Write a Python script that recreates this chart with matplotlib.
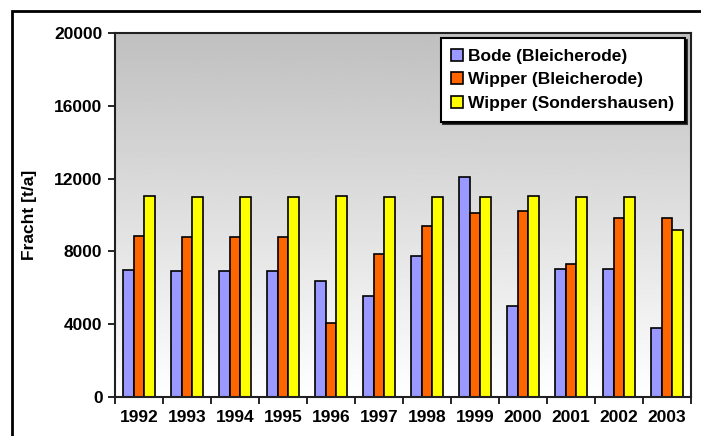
import numpy as np
import matplotlib.pyplot as plt
from matplotlib.patches import Rectangle

years = ['1992', '1993', '1994', '1995', '1996', '1997',
         '1998', '1999', '2000', '2001', '2002', '2003']
bode_bleicherode = [6980, 6940, 6940, 6940, 6390, 5550, 7750, 12100, 5000, 7010, 7010, 3770]
wipper_bleicherode = [8860, 8810, 8810, 8810, 4050, 7840, 9400, 10090, 10220, 7310, 9830, 9830]
wipper_sondershausen = [11060, 11010, 11010, 11010, 11060, 11010, 11010, 11010, 11060, 11010, 11010, 9175]

series = [
    ('Bode (Bleicherode)', bode_bleicherode, '#9999ff'),
    ('Wipper (Bleicherode)', wipper_bleicherode, '#ff6600'),
    ('Wipper (Sondershausen)', wipper_sondershausen, '#ffff00'),
]

plt.rcParams['font.family'] = ['Liberation Sans', 'DejaVu Sans']
plt.rcParams['font.weight'] = 'bold'

fig = plt.figure(figsize=(7.01, 4.36), dpi=100)
ax = fig.add_axes([115 / 701, 1 - 397 / 436, 576 / 701, 364 / 436])

# grey (top) to white (bottom) background of the plot area
grad = np.linspace(0.75, 1.0, 256).reshape(-1, 1)
ax.imshow(grad, cmap='gray', vmin=0, vmax=1, aspect='auto', origin='upper',
          extent=[-0.5, len(years) - 0.5, 0, 20000], zorder=0)

x = np.arange(len(years))
w = 0.22
for i, (name, vals, col) in enumerate(series):
    ax.bar(x + (i - 1) * w, vals, width=w, color=col, edgecolor='black',
           linewidth=1.2, label=name, zorder=2)

ax.set_xlim(-0.5, len(years) - 0.5)
ax.set_ylim(0, 20000)
ax.set_yticks(range(0, 20001, 4000))
ax.set_xticks(x)
ax.set_xticklabels(years)
ax.set_xticks(np.arange(-0.5, len(years)), minor=True)
ax.tick_params(axis='x', which='major', length=0, pad=9, labelsize=12.5)
ax.tick_params(axis='x', which='minor', length=5, width=1.2, direction='out')
ax.tick_params(axis='y', length=5, width=1.2, direction='out', pad=4, labelsize=12.5)
for s in ax.spines.values():
    s.set_linewidth(1.5)
    s.set_color('#202020')

ax.set_ylabel('Fracht [t/a]', fontsize=12.5, fontweight='bold', labelpad=12)

leg = ax.legend(loc='upper right', bbox_to_anchor=(0.9896, 0.986), fontsize=12.5,
                frameon=True, fancybox=False, edgecolor='black',
                shadow={'ox': 1.5, 'oy': -1.5, 'color': 'black', 'alpha': 0.75},
                handlelength=0.7, handleheight=0.7, handletextpad=0.3,
                borderpad=0.6, labelspacing=0.5, borderaxespad=0)
leg.get_frame().set_linewidth(1.5)
leg.get_frame().set_facecolor('white')
leg.get_frame().set_alpha(1)

# outer chart border
fig.patches.append(Rectangle((12 / 701, -0.1), 1.2, 1.1 - 11 / 436,
                             transform=fig.transFigure, fill=False,
                             edgecolor='black', linewidth=2))

fig.savefig('out.png', dpi=100)
